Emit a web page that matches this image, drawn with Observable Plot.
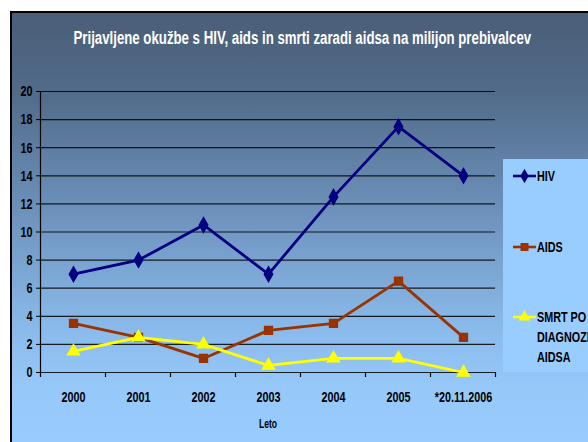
<!DOCTYPE html>
<html>
<head>
<meta charset="utf-8">
<script src="https://cdn.jsdelivr.net/npm/d3@7"></script>
<script src="https://cdn.jsdelivr.net/npm/@observablehq/plot@0.6"></script>
<style>
  html, body { margin: 0; padding: 0; background: #fff; }
  #wrap { position: relative; width: 588px; height: 442px; overflow: hidden; background: #fff;
    font-family: "Liberation Sans", Arial, sans-serif; font-weight: bold; }
  #panel { position: absolute; left: 10px; top: 11px; width: 580px; height: 440px;
    border-left: 2px solid #000; border-top: 2px solid #000;
    background: linear-gradient(to bottom, #4a5e77 0%, #516b89 18%, #6d91bb 45%, #88b8e8 70%, #96c8fa 85%, #99ccff 100%); }
  #title { position: absolute; left: -6px; top: 28px; width: 600px; text-align: center; color: #fff;
    font-size: 18px; line-height: 20px; white-space: nowrap; transform: scaleX(0.735); transform-origin: 300px 0; }
  #chart { position: absolute; left: 0; top: 0; }
  #legend { position: absolute; left: 503px; top: 159px; width: 85px; height: 213px; background: #99ccff; overflow: hidden; }
  .item { position: absolute; left: 10px; white-space: nowrap; font-size: 15px; color: #000; line-height: 20px; }
  .item svg { position: absolute; left: 0; top: 3px; }
  .item span { position: absolute; left: 24px; top: 0; transform: scaleX(0.72); transform-origin: 0 0; }
</style>
</head>
<body>
<div id="wrap">
  <div id="panel"></div>
  <div id="title">Prijavljene okužbe s HIV, aids in smrti zaradi aidsa na milijon prebivalcev</div>
  <div id="chart"></div>
  <div id="legend"></div>
</div>
<script>
const years = ["2000", "2001", "2002", "2003", "2004", "2005", "*20.11.2006"];
const hiv  = [7, 8, 10.5, 7, 12.5, 17.5, 14];
const aids = [3.5, 2.5, 1, 3, 3.5, 6.5, 2.5];
const smrt = [1.5, 2.5, 2, 0.5, 1, 1, 0];
const yTicks = [0, 2, 4, 6, 8, 10, 12, 14, 16, 18, 20];
const seriesNames = ["HIV", "AIDS", "SMRT PO DIAGNOZI AIDSA"];
const seriesColors = ["#000080", "#993300", "#ffff00"];
const seriesSymbols = ["diamond", "square", "triangle"];
const xLabel = "Leto";

const allSeries = [hiv, aids, smrt];
const data = [];
allSeries.forEach((vals, s) => vals.forEach((v, i) => data.push({year: years[i], value: v, series: seriesNames[s]})));

const font = '"Liberation Sans", Arial, sans-serif';
const squeeze = 0.72;

const plot = Plot.plot({
  width: 588,
  height: 442,
  marginLeft: 40,
  marginRight: 93,
  marginTop: 91,
  marginBottom: 70,
  style: {background: "transparent", fontFamily: font, fontSize: "15px", fontWeight: "bold", color: "#000", overflow: "visible"},
  x: {type: "point", domain: years, padding: 0.5, tickSize: 0, tickPadding: 19, label: null},
  y: {domain: [0, 20], ticks: yTicks, tickSize: 4, tickPadding: 4, label: null},
  color: {domain: seriesNames, range: seriesColors},
  symbol: {domain: seriesNames, range: seriesSymbols},
  marks: [
    Plot.ruleY(yTicks, {stroke: "#000", strokeWidth: 1.2, strokeOpacity: 0.85}),
    Plot.frame({anchor: "left", stroke: "#000", strokeWidth: 1.2}),
    Plot.lineY(data, {x: "year", y: "value", z: "series", stroke: "series", strokeWidth: 2.8}),
    Plot.dot(data, {x: "year", y: "value", symbol: "series", fill: "series", stroke: "series", r: 4.4}),
    Plot.text([xLabel], {frameAnchor: "bottom", dy: 55, fontSize: 12, text: d => d})
  ]
});
document.getElementById("chart").appendChild(plot);

// condense all chart texts horizontally (narrow typeface look), keeping their anchors in place
d3.select(plot).selectAll("text").each(function () {
  const t = d3.select(this);
  const tr = t.attr("transform");
  t.attr("transform", (tr ? tr + " " : "") + `scale(${squeeze},1)`);
  const x = t.attr("x");
  if (x != null && !isNaN(+x)) t.attr("x", +x / squeeze);
});

// category boundary tick marks on the x axis, placed with the plot's own x scale
const sx = plot.scale("x");
const pos = years.map(y => sx.apply(y));
const step = pos[1] - pos[0];
const sy = plot.scale("y");
const y0 = sy.apply(0);
const bounds = pos.map(p => p - step / 2).concat([pos[pos.length - 1] + step / 2]);
d3.select(plot).append("g").selectAll("line").data(bounds).join("line")
  .attr("x1", d => d).attr("x2", d => d).attr("y1", y0).attr("y2", y0 + 5)
  .attr("stroke", "#000").attr("stroke-width", 1.2);

// legend
const legend = d3.select("#legend");
const legendTops = [7, 78, 148];
const symbolPaths = [d3.symbol(d3.symbolDiamond, 60)(), d3.symbol(d3.symbolSquare, 64)(), d3.symbol(d3.symbolTriangle, 60)()];
const legendLines = [["HIV"], ["AIDS"], ["SMRT PO", "DIAGNOZI", "AIDSA"]];
seriesNames.forEach((name, i) => {
  const item = legend.append("div").attr("class", "item").style("top", legendTops[i] + "px");
  const svg = item.append("svg").attr("width", 24).attr("height", 14);
  svg.append("line").attr("x1", 0).attr("x2", 23).attr("y1", 7).attr("y2", 7)
    .attr("stroke", seriesColors[i]).attr("stroke-width", 2.6);
  svg.append("path").attr("d", symbolPaths[i]).attr("transform", "translate(11.5,7)").attr("fill", seriesColors[i]);
  item.append("span").html(legendLines[i].join("<br>"));
});
</script>
</body>
</html>
